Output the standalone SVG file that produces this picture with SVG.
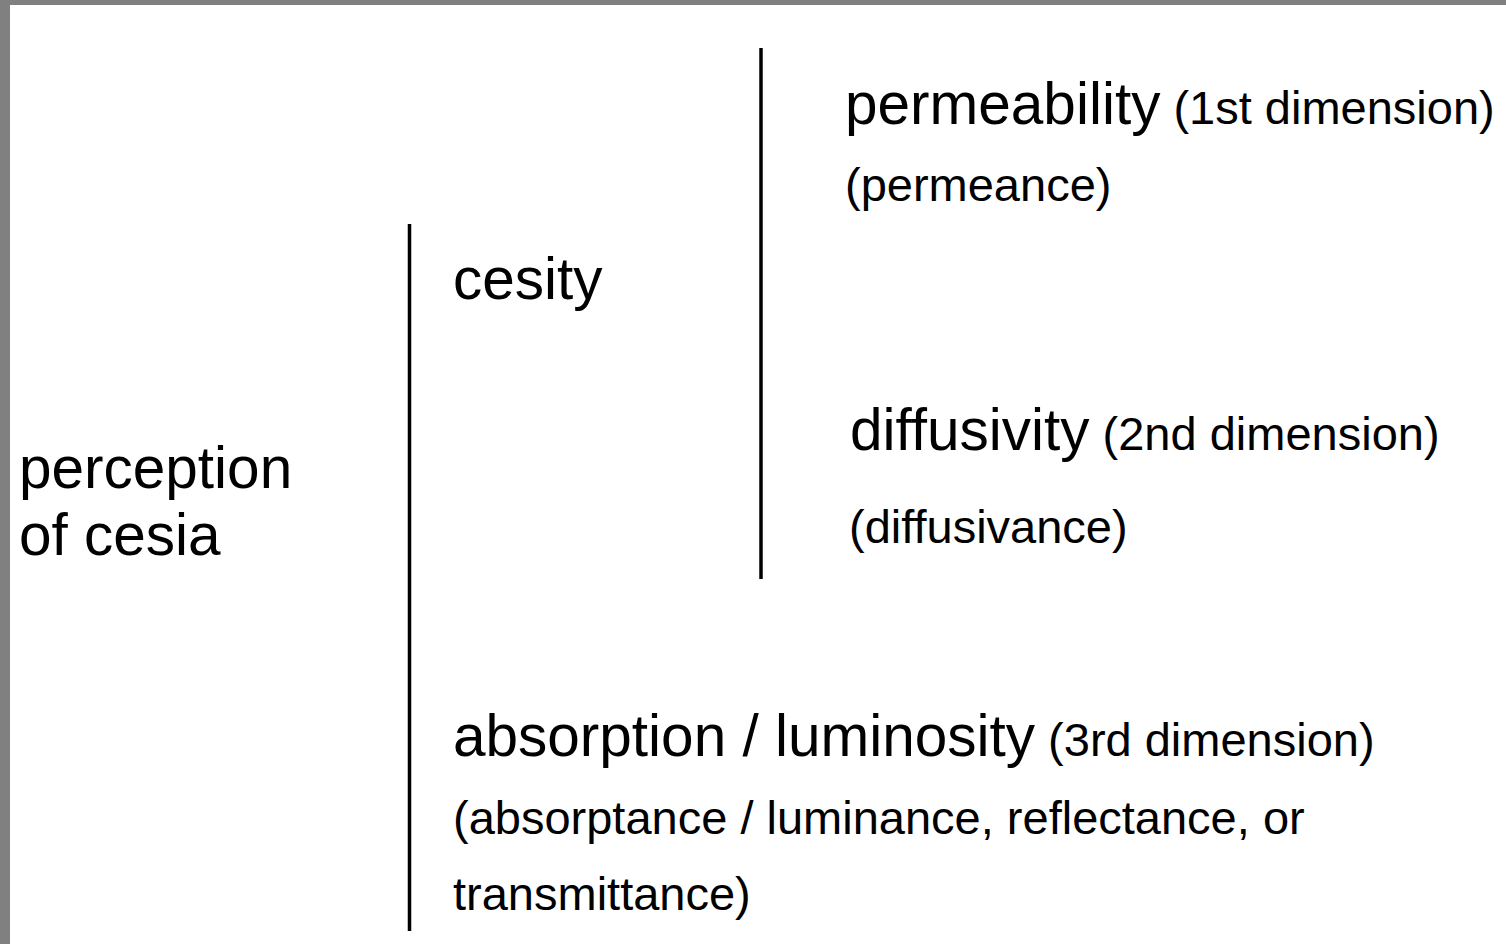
<svg xmlns="http://www.w3.org/2000/svg" width="1506" height="944" viewBox="0 0 1506 944">
<style>
.big{font-family:"Liberation Sans",Arial,sans-serif;font-size:58.5px;fill:#000}
.sm{font-family:"Liberation Sans",Arial,sans-serif;font-size:47px;fill:#000}
.ln{stroke:#000;stroke-width:3.5}
</style>
<rect x="0" y="0" width="1506" height="944" fill="#fff"/>
<rect x="0" y="0" width="1506" height="5" fill="#808080"/>
<rect x="0" y="0" width="10" height="944" fill="#808080"/>
<g id="connectors">
<line class="ln" x1="409.5" y1="224" x2="409.5" y2="931"/>
<line class="ln" x1="761" y1="48" x2="761" y2="579"/>
</g>
<g id="perception"><text class="big" x="19" y="488">perception</text><text class="big" x="19" y="555">of cesia</text></g>
<g id="cesity"><text class="big" x="453" y="299">cesity</text></g>
<g id="permeability"><text x="845" y="124"><tspan class="big">permeability</tspan><tspan class="sm"> (1st dimension)</tspan></text><text class="sm" x="845" y="201">(permeance)</text></g>
<g id="diffusivity"><text x="850" y="450"><tspan class="big">diffusivity</tspan><tspan class="sm"> (2nd dimension)</tspan></text><text class="sm" x="849" y="543">(diffusivance)</text></g>
<g id="absorption"><text x="453" y="756"><tspan class="big">absorption / luminosity</tspan><tspan class="sm"> (3rd dimension)</tspan></text><text class="sm" x="453" y="834">(absorptance / luminance, reflectance, or</text><text class="sm" x="453" y="910">transmittance)</text></g>
</svg>
